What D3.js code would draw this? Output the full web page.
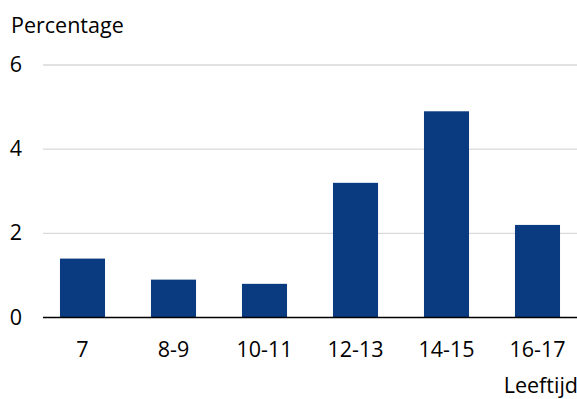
<!DOCTYPE html>
<html><head><meta charset="utf-8">
<script src="https://cdn.jsdelivr.net/npm/d3@7"></script>
<style>body{margin:0;background:#fff}svg{display:block}text{font-family:"Open Sans",sans-serif;fill:#000}</style>
</head><body><svg id="c" width="577" height="399"></svg>
<script>
const categories = ["7","8-9","10-11","12-13","14-15","16-17"];
const values = [1.4, 0.9, 0.8, 3.2, 4.9, 2.2];
const yTicks = [0, 2, 4, 6];
const yLabel = "Percentage";
const xLabel = "Leeftijd";

const svg = d3.select("#c");
const x = d3.scaleBand().domain(categories).range([37, 583]).paddingInner(0.505).paddingOuter(0.2525);
const y = d3.scaleLinear().domain([0, 6]).range([317.5, 65]);

svg.append("g").selectAll("line").data(yTicks.filter(d => d > 0)).join("line")
  .attr("x1", 43).attr("x2", 577).attr("y1", d => y(d)).attr("y2", d => y(d))
  .attr("stroke", "#d9d9d9").attr("stroke-width", 1.3);

svg.append("g").selectAll("rect").data(values).join("rect")
  .attr("x", (d, i) => x(categories[i])).attr("width", x.bandwidth())
  .attr("y", d => y(d)).attr("height", d => y(0) - y(d))
  .attr("fill", "#0a3a80");

svg.append("line").attr("x1", 43).attr("x2", 577).attr("y1", y(0)).attr("y2", y(0))
  .attr("stroke", "#000").attr("stroke-width", 1.3);

const fs = "21.5px";
svg.append("g").selectAll("text").data(yTicks).join("text")
  .attr("x", 16).attr("y", d => y(d) + 7).attr("text-anchor", "middle")
  .style("font-size", fs).text(d => d);

svg.append("g").selectAll("text").data(categories).join("text")
  .attr("x", d => x(d) + x.bandwidth() / 2).attr("y", 357).attr("text-anchor", "middle")
  .style("font-size", fs).text(d => d);

svg.append("text").attr("x", 11).attr("y", 33).style("font-size", fs).text(yLabel);
svg.append("text").attr("x", 578).attr("y", 393).attr("text-anchor", "end").style("font-size", fs).text(xLabel);
</script></body></html>
